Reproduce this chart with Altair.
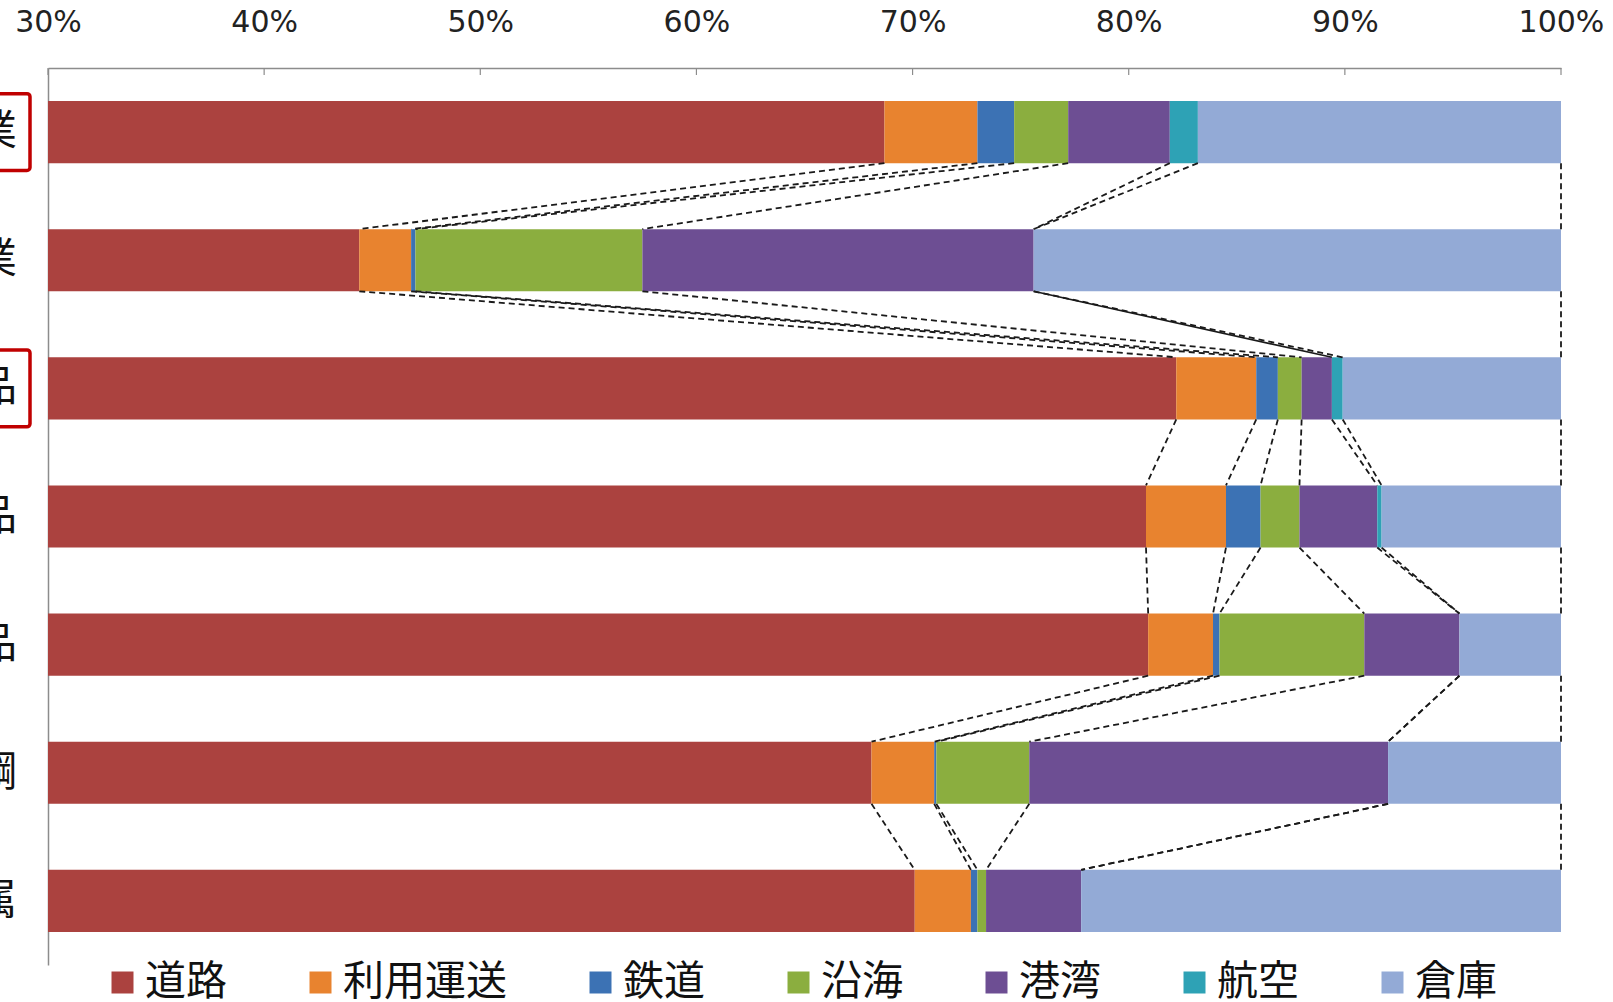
import altair as alt
import pandas as pd

# ---------------- data ----------------
categories = ["製造業", "卸売業", "食料品", "化学製品", "窯業・土石製品", "鉄鋼", "非鉄金属"]
highlighted = ["製造業", "食料品"]
modes = ["道路", "利用運送", "鉄道", "沿海", "港湾", "航空", "倉庫"]
colors = ["#AB423F", "#E8832F", "#3C72B4", "#8BAE3F", "#6D4E93", "#2EA2B5", "#93AAD6"]

# shares (%) of each mode, one value per category
share_road = [68.7, 44.4, 82.2, 80.8, 80.9, 68.1, 70.1]
share_forwarding = [4.3, 2.4, 3.7, 3.7, 3.0, 2.9, 2.6]
share_rail = [1.7, 0.2, 1.0, 1.6, 0.3, 0.1, 0.3]
share_coastal = [2.5, 10.5, 1.1, 1.8, 6.7, 4.3, 0.4]
share_port = [4.7, 18.1, 1.4, 3.6, 4.4, 16.6, 4.4]
share_air = [1.3, 0.0, 0.5, 0.2, 0.0, 0.0, 0.0]
share_warehouse = [16.8, 24.4, 10.1, 8.3, 4.7, 8.0, 22.2]

x_ticks = [0.3, 0.4, 0.5, 0.6, 0.7, 0.8, 0.9, 1.0]
solid_links = [("卸売業", "港湾")]  # series line drawn solid

# ---------------- tables ----------------
shares = [share_road, share_forwarding, share_rail, share_coastal,
          share_port, share_air, share_warehouse]
BAR = 0.485  # bar thickness in category units

bar_rows, ends = [], []
for i, cat in enumerate(categories):
    cum = 0.0
    row_ends = []
    for k, m in enumerate(modes):
        s = shares[k][i]
        bar_rows.append(dict(cat=cat, mode=m, start=cum / 100, end=(cum + s) / 100,
                             top=i - BAR / 2, bottom=i + BAR / 2))
        cum += s
        row_ends.append(cum / 100)
    ends.append(row_ends)
bars_df = pd.DataFrame(bar_rows)

link_rows = []
for i in range(len(categories) - 1):
    for k, m in enumerate(modes):
        link_rows.append(dict(x=ends[i][k], x2=ends[i + 1][k],
                              y=i + BAR / 2, y2=i + 1 - BAR / 2,
                              solid=(categories[i], m) in solid_links))
links_df = pd.DataFrame(link_rows)

labels_df = pd.DataFrame(dict(name=categories, idx=list(range(len(categories)))))
box_df = pd.DataFrame([dict(top=categories.index(c) - 0.3, bottom=categories.index(c) + 0.3)
                       for c in highlighted])
ticks_df = pd.DataFrame(dict(v=x_ticks))

# ---------------- chart ----------------
xs = alt.Scale(domain=[0.3, 1.0], nice=False, zero=False)
ys = alt.Scale(domain=[-0.5, 6.5], reverse=True, nice=False, zero=False)
FONT = "Noto Sans CJK JP"

x_axis = alt.Axis(orient="top", values=x_ticks, format=".0%", labelFontSize=30,
                  labelFont="DejaVu Sans", labelColor="#222", ticks=False, grid=False,
                  domainColor="#8c8c8c", domainWidth=1.5, labelPadding=31, title=None,
                  labelFlush=False, labelOverlap=False)
y_axis = alt.Axis(orient="left", labels=False, ticks=False, grid=False, title=None,
                  domainColor="#8c8c8c", domainWidth=1.5)

bars = alt.Chart(bars_df).mark_bar(clip=True).encode(
    x=alt.X("start:Q", scale=xs, axis=x_axis),
    x2="end:Q",
    y=alt.Y("top:Q", scale=ys, axis=y_axis),
    y2="bottom:Q",
    color=alt.Color("mode:N", scale=alt.Scale(domain=modes, range=colors),
                    legend=alt.Legend(orient="none", legendX=54, legendY=894,
                                      direction="horizontal", columns=7, gridAlign="none",
                                      columnPadding=73, symbolType="square", symbolSize=484,
                                      symbolStrokeWidth=0, symbolOpacity=1,
                                      labelFontSize=41, labelFont=FONT, labelColor="#111",
                                      labelOffset=2, title=None, padding=0,
                                      labelLimit=400)),
)

tick_marks = alt.Chart(ticks_df).mark_rule(color="#8c8c8c", strokeWidth=1.2).encode(
    x=alt.X("v:Q", scale=xs, axis=x_axis), y=alt.value(0), y2=alt.value(7)
)

dashed = alt.Chart(links_df).transform_filter("!datum.solid").mark_rule(
    color="#1a1a1a", strokeWidth=1.8, strokeDash=[6, 4]
).encode(
    x=alt.X("x:Q", scale=xs, axis=x_axis), x2="x2:Q",
    y=alt.Y("y:Q", scale=ys, axis=y_axis), y2="y2:Q",
)
solid = alt.Chart(links_df).transform_filter("datum.solid").mark_rule(
    color="#1a1a1a", strokeWidth=1.7
).encode(
    x=alt.X("x:Q", scale=xs, axis=x_axis), x2="x2:Q",
    y=alt.Y("y:Q", scale=ys, axis=y_axis), y2="y2:Q",
)

cat_labels = alt.Chart(labels_df).mark_text(
    align="right", baseline="middle", fontSize=42, font=FONT, color="#111"
).encode(
    x=alt.value(-31), y=alt.Y("idx:Q", scale=ys, axis=y_axis), text="name:N"
)

boxes = alt.Chart(box_df).mark_rect(
    fill="transparent", stroke="#C00000", strokeWidth=3.5, cornerRadius=3
).encode(
    x=alt.value(-52), x2=alt.value(-18),
    y=alt.Y("top:Q", scale=ys, axis=y_axis), y2="bottom:Q",
)

chart = alt.layer(bars, tick_marks, dashed, solid, cat_labels, boxes).properties(
    width=1513, height=897,
    autosize=alt.AutoSizeParams(type="none"),
    padding={"left": 48, "top": 68, "right": 52, "bottom": 37},
    background="white",
).configure_view(stroke=None)

chart.save("out.html", embed_options={"renderer": "svg", "actions": False})
